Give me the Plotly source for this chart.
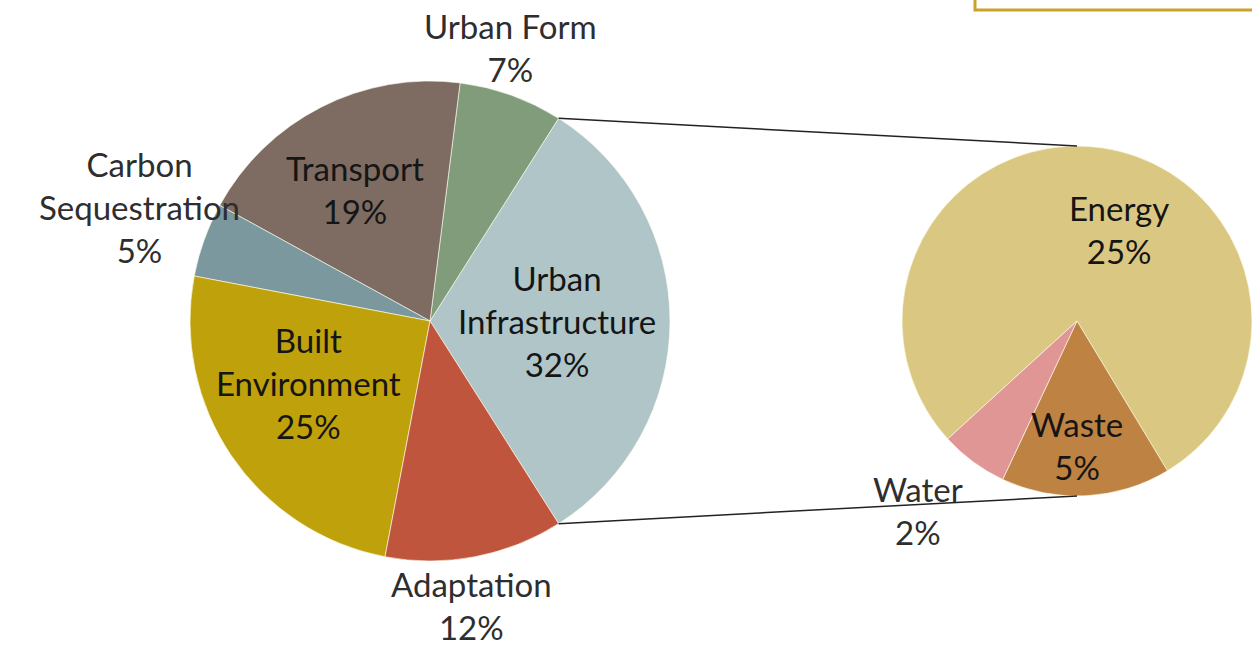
import math
import plotly.graph_objects as go

# Canvas size in pixels
W, H = 1252, 647

# Main pie: share of activity by theme (percent)
main_labels = ["Urban Infrastructure", "Urban Form", "Transport",
               "Carbon Sequestration", "Built Environment", "Adaptation"]
main_text = ["Urban<br>Infrastructure", "Urban Form", "Transport",
             "Carbon<br>Sequestration", "Built<br>Environment", "Adaptation"]
main_values = [32, 7, 19, 5, 25, 12]
main_colors = ["#B0C5C8", "#809C7A", "#7E6C62", "#7A989E", "#BFA10C", "#C0553E"]

# Secondary pie: breakdown of Urban Infrastructure (percent of total)
sub_labels = ["Energy", "Waste", "Water"]
sub_text = ["Energy", "Waste", "Water"]
sub_values = [25, 5, 2]
sub_colors = ["#DAC882", "#BE8242", "#E09694"]

# Label placement per slice: (radius as a fraction of the pie radius,
# angular nudge in degrees from the slice bisector, inside the slice?)
main_label_place = [(0.53, 0.0, True), (1.187, 3.4, False), (0.63, 2.8, True),
                    (1.30, -1.7, False), (0.567, -7.1, True), (1.20, -2.5, False)]
sub_label_place = [(0.577, -16.3, True), (0.71, -3.0, True), (1.41, -3.6, False)]

FONT = "Lato, 'Open Sans', sans-serif"
FS = 33
INSIDE_COLOR = "#151515"
OUTSIDE_COLOR = "#2e2e2e"

# Pie geometry (pixel centres and radii)
main_cx, main_cy, main_r = 430, 321, 240
sub_r = 175
sub_cx, sub_cy = W - sub_r, 321


def dom(cx, cy, r):
    return dict(x=[(cx - r) / W, (cx + r) / W],
                y=[1 - (cy + r) / H, 1 - (cy - r) / H])


# The exploded slice is centred on 3 o'clock; plotly's rotation is measured
# clockwise from 12 o'clock.
ui_share = main_values[0] / sum(main_values)
main_rotation = 90 - 360 * ui_share / 2

# Secondary pie: the Waste slice sits near the bottom
sub_total = sum(sub_values)
waste_mid = 177
sub_rotation = waste_mid - 360 * (sub_values[0] + sub_values[1] / 2) / sub_total

fig = go.Figure()

fig.add_trace(go.Pie(
    labels=main_labels, values=main_values, textinfo="none",
    sort=False, direction="counterclockwise", rotation=main_rotation,
    marker=dict(colors=main_colors, line=dict(color="rgba(255,255,240,0.6)", width=1)),
    domain=dom(main_cx, main_cy, main_r),
    showlegend=False, hoverinfo="label+value",
))

fig.add_trace(go.Pie(
    labels=sub_labels, values=sub_values, textinfo="none",
    sort=False, direction="clockwise", rotation=sub_rotation,
    marker=dict(colors=sub_colors, line=dict(color="rgba(255,255,240,0.6)", width=1)),
    domain=dom(sub_cx, sub_cy, sub_r),
    showlegend=False, hoverinfo="label+value",
))


def slice_mids(values, rotation, clockwise):
    """Bisector of each slice as a clock angle (degrees from 12 o'clock)."""
    total = sum(values)
    mids = []
    if clockwise:
        cur = rotation
        for v in values:
            span = 360 * v / total
            mids.append(cur + span / 2)
            cur += span
    else:
        # plotly puts the first slice clockwise of `rotation`, the rest anticlockwise
        span0 = 360 * values[0] / total
        mids.append(rotation + span0 / 2)
        cur = rotation
        for v in values[1:]:
            span = 360 * v / total
            mids.append(cur - span / 2)
            cur -= span
    return mids


annotations = []


def add_labels(texts, values, mids, places, cx, cy, r):
    for txt, val, mid, (frac, nudge, inside) in zip(texts, values, mids, places):
        a = math.radians(mid - nudge)  # nudge is anticlockwise
        px = cx + frac * r * math.sin(a)
        py = cy - frac * r * math.cos(a)
        annotations.append(dict(
            x=px / W, y=1 - py / H, xref="paper", yref="paper",
            text=f"{txt}<br>{val}%", showarrow=False,
            xanchor="center", yanchor="middle", align="center",
            font=dict(family=FONT, size=FS,
                      color=INSIDE_COLOR if inside else OUTSIDE_COLOR),
        ))


add_labels(main_text, main_values,
           slice_mids(main_values, main_rotation, clockwise=False),
           main_label_place, main_cx, main_cy, main_r)
add_labels(sub_text, sub_values,
           slice_mids(sub_values, sub_rotation, clockwise=True),
           sub_label_place, sub_cx, sub_cy, sub_r)

# Connector lines from the exploded slice edges to the secondary pie
a_top = math.radians(main_rotation)
a_bot = math.radians(main_rotation + 360 * ui_share)
shapes = []
for ang, sy in ((a_top, sub_cy - sub_r), (a_bot, sub_cy + sub_r)):
    x0 = main_cx + main_r * math.sin(ang)
    y0 = main_cy - main_r * math.cos(ang)
    shapes.append(dict(type="line", xref="paper", yref="paper",
                       x0=x0 / W, y0=1 - y0 / H, x1=sub_cx / W, y1=1 - sy / H,
                       line=dict(color="#222222", width=1.5)))

# Gold frame corner at the top right
shapes.append(dict(type="path", xref="paper", yref="paper",
                   path=f"M {975 / W},1 L {975 / W},{1 - 10 / H} L 1,{1 - 10 / H}",
                   line=dict(color="#C9A227", width=3)))

fig.update_layout(
    width=W, height=H,
    margin=dict(l=0, r=0, t=0, b=0),
    paper_bgcolor="white", plot_bgcolor="white",
    shapes=shapes, annotations=annotations,
)

fig.write_html("out.html")
